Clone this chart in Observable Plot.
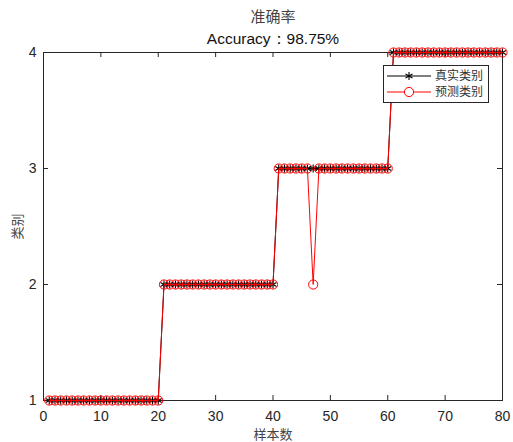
<!DOCTYPE html>
<html>
<head>
<meta charset="utf-8">
<script src="https://cdn.jsdelivr.net/npm/d3@7"></script>
<script src="https://cdn.jsdelivr.net/npm/@observablehq/plot@0.6"></script>
<style>
  html, body { margin: 0; padding: 0; background: #fff; }
  #wrap { position: relative; width: 513px; height: 442px; }
  #legend { position: absolute; left: 383px; top: 65px; }
</style>
</head>
<body>
<div id="wrap"></div>
<script>
const titleText = "准确率";
const subtitleText = "Accuracy：98.75%";
const xLabel = "样本数";
const yLabel = "类别";
const seriesNames = ["真实类别", "预测类别"];
const xTicks = [0, 10, 20, 30, 40, 50, 60, 70, 80];
const yTicks = [1, 2, 3, 4];
const sampleIndex = [
  1,2,3,4,5,6,7,8,9,10,11,12,13,14,15,16,17,18,19,20,
  21,22,23,24,25,26,27,28,29,30,31,32,33,34,35,36,37,38,39,40,
  41,42,43,44,45,46,47,48,49,50,51,52,53,54,55,56,57,58,59,60,
  61,62,63,64,65,66,67,68,69,70,71,72,73,74,75,76,77,78,79,80
];
const trueClass = [
  1,1,1,1,1,1,1,1,1,1,1,1,1,1,1,1,1,1,1,1,
  2,2,2,2,2,2,2,2,2,2,2,2,2,2,2,2,2,2,2,2,
  3,3,3,3,3,3,3,3,3,3,3,3,3,3,3,3,3,3,3,3,
  4,4,4,4,4,4,4,4,4,4,4,4,4,4,4,4,4,4,4,4
];
const predClass = [
  1,1,1,1,1,1,1,1,1,1,1,1,1,1,1,1,1,1,1,1,
  2,2,2,2,2,2,2,2,2,2,2,2,2,2,2,2,2,2,2,2,
  3,3,3,3,3,3,2,3,3,3,3,3,3,3,3,3,3,3,3,3,
  4,4,4,4,4,4,4,4,4,4,4,4,4,4,4,4,4,4,4,4
];

const trueData = sampleIndex.map((x, i) => ({x, y: trueClass[i]}));
const predData = sampleIndex.map((x, i) => ({x, y: predClass[i]}));

const W = 513, H = 442;
const mL = 43, mR = 11, mT = 52, mB = 42;
const innerW = W - mL - mR, innerH = H - mT - mB;
const latin = "'Liberation Sans', Arial, sans-serif";
const cjk = "'Noto Sans CJK SC', sans-serif";
const ink = "#262626";

const chart = Plot.plot({
  width: W, height: H,
  marginLeft: mL, marginRight: mR, marginTop: mT, marginBottom: mB,
  style: {fontFamily: latin, fontSize: "14px", color: ink, background: "#fff", overflow: "visible"},
  x: {domain: [0, 80]},
  y: {domain: [1, 4]},
  marks: [
    Plot.frame({stroke: ink, strokeWidth: 1}),
    Plot.axisX(xTicks, {tickSize: 0, tickPadding: 11, tickFormat: "d", label: null, fontSize: 14, fill: ink}),
    Plot.axisY(yTicks, {tickSize: 0, tickPadding: 7, tickFormat: "d", label: null, fontSize: 14, fill: ink}),
    Plot.tickX(xTicks, {x: d => d, insetTop: innerH - 5, stroke: ink}),
    Plot.tickX(xTicks, {x: d => d, insetBottom: innerH - 5, stroke: ink}),
    Plot.tickY(yTicks, {y: d => d, insetRight: innerW - 5, stroke: ink}),
    Plot.tickY(yTicks, {y: d => d, insetLeft: innerW - 5, stroke: ink}),
    Plot.line(trueData, {x: "x", y: "y", stroke: "#000", strokeWidth: 1}),
    Plot.dot(trueData, {x: "x", y: "y", symbol: "asterisk", r: 3.8, stroke: "#000", strokeWidth: 1.1}),
    Plot.line(predData, {x: "x", y: "y", stroke: "#ff0000", strokeWidth: 1}),
    Plot.dot(predData, {x: "x", y: "y", symbol: "circle", r: 4.6, stroke: "#ff0000", strokeWidth: 1, fill: "none"}),
    Plot.text([titleText], {text: d => d, frameAnchor: "top", lineAnchor: "middle", textAnchor: "middle", dy: -35, fontFamily: cjk, fontSize: 15, fill: "#444"}),
    Plot.text([subtitleText], {text: d => d, frameAnchor: "top", lineAnchor: "middle", textAnchor: "middle", dy: -13, fontFamily: latin, fontSize: 15.5, fill: "#111"}),
    Plot.text([xLabel], {text: d => d, frameAnchor: "bottom", lineAnchor: "middle", textAnchor: "middle", dy: 34, fontFamily: cjk, fontSize: 13, fill: "#444"}),
    Plot.text([yLabel], {text: d => d, frameAnchor: "left", lineAnchor: "middle", textAnchor: "middle", dx: -26, rotate: -90, fontFamily: cjk, fontSize: 13, fill: "#444"})
  ]
});
const wrap = document.getElementById("wrap");
wrap.appendChild(chart);

// Legend overlay
const lw = 106, lh = 38;
const ns = "http://www.w3.org/2000/svg";
const leg = d3.create("svg").attr("id", "legend").attr("width", lw).attr("height", lh)
  .attr("xmlns", ns);
leg.append("rect").attr("x", 0.5).attr("y", 0.5).attr("width", lw - 1).attr("height", lh - 1)
  .attr("fill", "#fff").attr("stroke", "#262626").attr("stroke-width", 1);
const rows = [
  {name: seriesNames[0], color: "#000", sym: "star"},
  {name: seriesNames[1], color: "#ff0000", sym: "circle"}
];
rows.forEach((r, i) => {
  const cy = 11 + i * 16;
  const g = leg.append("g");
  g.append("line").attr("x1", 4).attr("x2", 48).attr("y1", cy).attr("y2", cy)
    .attr("stroke", r.color).attr("stroke-width", 1);
  if (r.sym === "circle") {
    g.append("circle").attr("cx", 26).attr("cy", cy).attr("r", 4.6)
      .attr("fill", "#fff").attr("stroke", r.color);
  } else {
    g.append("path").attr("transform", `translate(26,${cy})`)
      .attr("d", d3.symbol(d3.symbolAsterisk, 3.8 * 3.8 * Math.PI)())
      .attr("stroke", r.color).attr("stroke-width", 1.1).attr("fill", "none");
  }
  g.append("text").attr("x", 52).attr("y", cy).attr("dy", "0.35em")
    .attr("font-family", cjk).attr("font-size", 12).attr("fill", "#333").text(r.name);
});
wrap.appendChild(leg.node());
</script>
</body>
</html>
